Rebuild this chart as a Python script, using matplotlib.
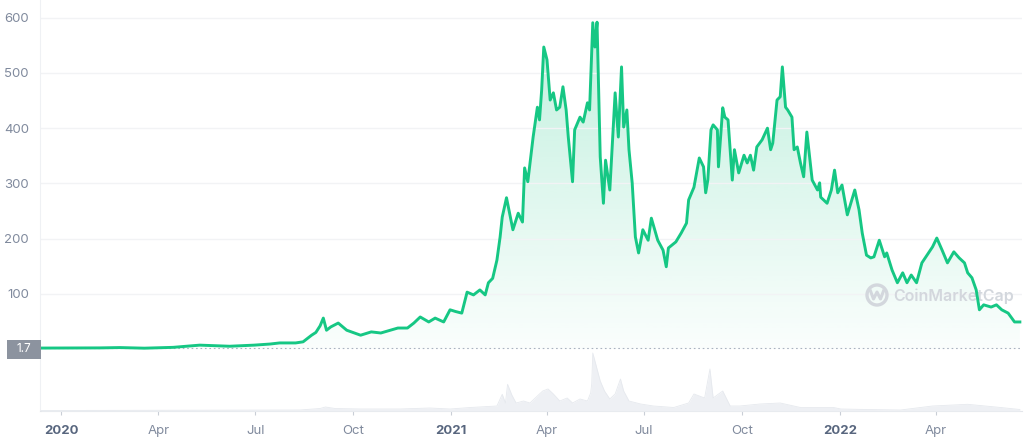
import matplotlib
matplotlib.use("Agg")
import matplotlib.pyplot as plt
import matplotlib.dates as mdates
from matplotlib.patches import Rectangle, Circle
import numpy as np
import pandas as pd

# price (USD)
price_dates = [
    "2019-12-13", "2020-01-20", "2020-02-06", "2020-02-25", "2020-03-19", "2020-04-15",
    "2020-05-10", "2020-06-07", "2020-06-30", "2020-07-15", "2020-07-24", "2020-08-08",
    "2020-08-15", "2020-08-23", "2020-08-27", "2020-08-31", "2020-09-03", "2020-09-06",
    "2020-09-10", "2020-09-17", "2020-09-25", "2020-10-08", "2020-10-18", "2020-10-27",
    "2020-11-12", "2020-11-21", "2020-11-27", "2020-12-03", "2020-12-11", "2020-12-17",
    "2020-12-25", "2020-12-31",
    "2021-01-05", "2021-01-11", "2021-01-16", "2021-01-22", "2021-01-28", "2021-02-02",
    "2021-02-05", "2021-02-09", "2021-02-13", "2021-02-16", "2021-02-18", "2021-02-22",
    "2021-02-28", "2021-03-05", "2021-03-09", "2021-03-11", "2021-03-14", "2021-03-19",
    "2021-03-23", "2021-03-25", "2021-03-27", "2021-03-29", "2021-04-01", "2021-04-04",
    "2021-04-07", "2021-04-10", "2021-04-13", "2021-04-16", "2021-04-19", "2021-04-21",
    "2021-04-25", "2021-04-27", "2021-05-02", "2021-05-05", "2021-05-09", "2021-05-11",
    "2021-05-14", "2021-05-16", "2021-05-18", "2021-05-21", "2021-05-24", "2021-05-26",
    "2021-05-30", "2021-06-04", "2021-06-07", "2021-06-10", "2021-06-12", "2021-06-15",
    "2021-06-17", "2021-06-20", "2021-06-23", "2021-06-26", "2021-06-30", "2021-07-05",
    "2021-07-08", "2021-07-14", "2021-07-19", "2021-07-22", "2021-07-24", "2021-07-31",
    "2021-08-05", "2021-08-10", "2021-08-12", "2021-08-17", "2021-08-22", "2021-08-26",
    "2021-08-28", "2021-08-30", "2021-09-02", "2021-09-04", "2021-09-08", "2021-09-09",
    "2021-09-13", "2021-09-15", "2021-09-18", "2021-09-22", "2021-09-24", "2021-09-28",
    "2021-10-03", "2021-10-06", "2021-10-09", "2021-10-12", "2021-10-15", "2021-10-20",
    "2021-10-25", "2021-10-28", "2021-10-30", "2021-11-03", "2021-11-06", "2021-11-08",
    "2021-11-11", "2021-11-13", "2021-11-17", "2021-11-19", "2021-11-22", "2021-11-25",
    "2021-11-28", "2021-12-01", "2021-12-06", "2021-12-11", "2021-12-13", "2021-12-14",
    "2021-12-20", "2021-12-24", "2021-12-27", "2021-12-30",
    "2022-01-03", "2022-01-08", "2022-01-15", "2022-01-19", "2022-01-22", "2022-01-26",
    "2022-01-30", "2022-02-02", "2022-02-07", "2022-02-12", "2022-02-14", "2022-02-19",
    "2022-02-24", "2022-03-01", "2022-03-05", "2022-03-09", "2022-03-14", "2022-03-19",
    "2022-03-29", "2022-04-02", "2022-04-07", "2022-04-12", "2022-04-18", "2022-04-23",
    "2022-04-28", "2022-05-01", "2022-05-05", "2022-05-09", "2022-05-12", "2022-05-16",
    "2022-05-23", "2022-05-28", "2022-06-02", "2022-06-08", "2022-06-14", "2022-06-19",
]
prices = [
    1.7, 1.8, 2.0, 2.6, 1.5, 3.0,
    7, 5, 7, 9, 11, 11,
    13, 25, 30, 42, 56, 34,
    40, 47, 34, 25, 31, 29,
    38, 38, 47, 58, 49, 56,
    49, 71,
    68, 65, 103, 98, 107, 98,
    120, 128, 161, 203, 239, 274,
    216, 246, 230, 328, 303, 384,
    438, 415, 469, 547, 524, 451,
    464, 433, 438, 475, 433, 384,
    303, 397, 420, 411, 446, 433,
    591, 547, 592, 348, 264, 342,
    288, 464, 384, 511, 402, 433,
    361, 301, 203, 174, 216, 197,
    237, 197, 179, 149, 183, 194,
    210, 228, 270, 293, 346, 330,
    283, 306, 397, 406, 397, 330,
    437, 420, 415, 306, 361, 319,
    351, 337, 351, 324, 366, 379,
    400, 361, 373, 451, 457, 511,
    438, 433, 420, 361, 366, 337,
    312, 393, 306, 288, 301, 275,
    264, 288, 324, 283,
    297, 243, 288, 252, 210, 170,
    165, 167, 197, 167, 174, 143,
    120, 138, 120, 134, 120, 156,
    185, 201, 179, 156, 176, 165,
    156, 138, 129, 107, 71, 80,
    76, 80, 71, 65, 49, 49,
]

# 24h volume (USD millions)
vol_dates = [
    "2019-12-13", "2020-05-10", "2020-08-12", "2020-08-31", "2020-09-05", "2020-09-14",
    "2020-10-08", "2020-11-14", "2020-12-12", "2020-12-31", "2021-01-19", "2021-02-13",
    "2021-02-18", "2021-02-21", "2021-02-23", "2021-02-27", "2021-03-03", "2021-03-10",
    "2021-03-16", "2021-03-23", "2021-03-28", "2021-04-02", "2021-04-07", "2021-04-13",
    "2021-04-20", "2021-04-25", "2021-05-02", "2021-05-09", "2021-05-12", "2021-05-13",
    "2021-05-14", "2021-05-18", "2021-05-21", "2021-05-25", "2021-05-30", "2021-06-04",
    "2021-06-09", "2021-06-12", "2021-06-17", "2021-06-28", "2021-07-10", "2021-07-29",
    "2021-08-12", "2021-08-17", "2021-08-27", "2021-09-01", "2021-09-04", "2021-09-13",
    "2021-09-20", "2021-09-29", "2021-10-18", "2021-11-06", "2021-11-25", "2021-12-26",
    "2022-01-02", "2022-01-26", "2022-02-27", "2022-03-29", "2022-05-01", "2022-06-01",
    "2022-06-19",
]
volumes = [
    10, 16, 20, 50, 80, 50,
    40, 40, 60, 40, 70, 100,
    334, 160, 534, 320, 160, 200,
    160, 300, 400, 440, 340, 200,
    260, 160, 240, 200, 360, 540,
    1160, 840, 600, 400, 240, 340,
    640, 400, 200, 140, 100, 70,
    160, 340, 260, 840, 260, 400,
    100, 100, 140, 160, 70, 70,
    40, 30, 20, 100, 134, 70,
    30,
]

tick_dates = ["2020-01-01", "2020-04-01", "2020-07-01", "2020-10-01",
              "2021-01-01", "2021-04-01", "2021-07-01", "2021-10-01",
              "2022-01-01", "2022-04-01"]
tick_labels = ["2020", "Apr", "Jul", "Oct", "2021", "Apr", "Jul", "Oct", "2022", "Apr"]
y_ticks = [100, 200, 300, 400, 500, 600]
start_price = 1.7

green = "#16c784"
grey_text = "#808a9d"
plt.rcParams["font.family"] = ["Inter", "DejaVu Sans"]

W, H = 1024, 441
fig = plt.figure(figsize=(W / 100, H / 100), dpi=100)

# main price axes: spans x 40..1022 px, y 0..411 px
ax = fig.add_axes([40 / W, 30 / H, 982 / W, 411 / H])
xd = mdates.date2num(pd.to_datetime(price_dates))
xmin = mdates.date2num(pd.Timestamp("2019-12-12"))
xmax = mdates.date2num(pd.Timestamp("2022-06-21"))
ymin, ymax = -112.3, 632.2

# gradient fill under the line
g = np.linspace(0, 1, 256).reshape(-1, 1)
rgba = np.zeros((256, 1, 4))
rgba[..., 0] = 22 / 255
rgba[..., 1] = 199 / 255
rgba[..., 2] = 132 / 255
rgba[..., 3] = 0.02 + 0.25 * g
im = ax.imshow(rgba, extent=[xmin, xmax, 0, 600], origin="lower",
               aspect="auto", zorder=1, interpolation="bilinear")
verts = np.vstack([[xd[0], 0], np.column_stack([xd, prices]), [xd[-1], 0]])
poly = plt.Polygon(verts, closed=True, facecolor="none", edgecolor="none",
                   transform=ax.transData)
ax.add_patch(poly)
im.set_clip_path(poly)

ax.plot(xd, prices, color=green, lw=2.1, zorder=4, solid_joinstyle="round")
ax.axhline(start_price, color="#aab2c0", lw=0.8, dashes=(1.5, 2.5), zorder=2)

ax.set_xlim(xmin, xmax)
ax.set_ylim(ymin, ymax)
ax.set_yticks(y_ticks)
ax.set_yticklabels([str(v) for v in y_ticks])
ax.grid(axis="y", color="#f2f3f5", lw=1, zorder=0)
ax.tick_params(axis="y", length=0, pad=8, labelsize=9.5, labelcolor=grey_text)

ax.set_xticks(mdates.date2num(pd.to_datetime(tick_dates)))
ax.set_xticklabels(tick_labels)
ax.tick_params(axis="x", length=3, width=0.8, color="#c9ced6", pad=7,
               labelsize=9.5, labelcolor=grey_text)
for lab in ax.get_xticklabels():
    if lab.get_text().isdigit():
        lab.set_fontweight("bold")
        lab.set_color("#58667e")

for side in ["top", "right"]:
    ax.spines[side].set_visible(False)
ax.spines["left"].set_color("#eff1f4")
ax.spines["bottom"].set_color("#e3e6eb")

# watermark, drawn inside the axes under the price line (inches, 100 px per inch)
wm = "#d3d7dd"
ax.add_patch(Circle((8.77, (H - 295) / 100), 0.10, transform=fig.dpi_scale_trans,
                    facecolor="none", edgecolor=wm, lw=2.4, zorder=3, clip_on=False))
ax.plot([8.705, 8.735, 8.77, 8.805, 8.835],
        [(H - 291) / 100, (H - 299) / 100, (H - 292) / 100,
         (H - 299) / 100, (H - 291) / 100],
        transform=fig.dpi_scale_trans, color=wm, lw=2.2, zorder=3, clip_on=False)
ax.text(893 / W, (H - 296) / H, "CoinMarketCap", color=wm, fontsize=11.5,
        fontweight="semibold", ha="left", va="center",
        transform=fig.transFigure, zorder=3)

# volume axes under the zero line: y 349..411 px
axv = fig.add_axes([40 / W, 30 / H, 982 / W, 62 / H], sharex=ax)
axv.patch.set_alpha(0)
vd = mdates.date2num(pd.to_datetime(vol_dates))
axv.fill_between(vd, volumes, 0, color="#eef0f4", lw=0)
axv.plot(vd, volumes, color="#e6e9ee", lw=0.6)
axv.set_ylim(0, 1240)
axv.axis("off")
axv.set_xlim(xmin, xmax)

# start-price label box
fig.patches.append(Rectangle((7 / W, (H - 359) / H), 34 / W, 19 / H,
                             transform=fig.transFigure, facecolor="#8c939f",
                             edgecolor="none"))
fig.text(24 / W, (H - 349.5) / H, "1.7", color="white", fontsize=8.5,
         ha="center", va="center")

fig.savefig("out.png", dpi=100)
